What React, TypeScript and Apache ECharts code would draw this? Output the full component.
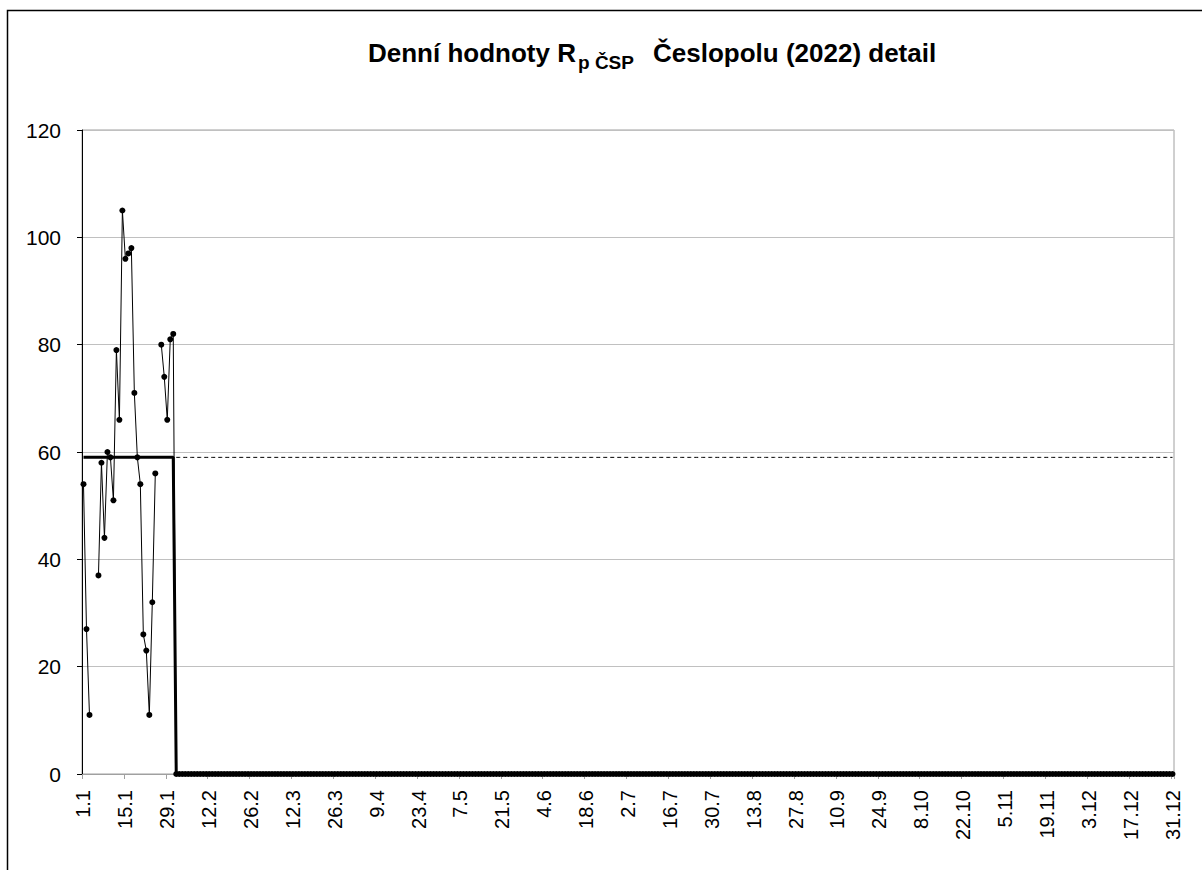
import React, { useEffect, useRef } from "react";
import * as echarts from "echarts";

// ---- data ----
const YEAR = 2022;
const DAYS_IN_YEAR = 365;
// daily values 1.1. – 31.1. (null = no value that day)
const januaryValues: (number | null)[] = [
  54, 27, 11, null, null, 37, 58, 44, 60, 59, 51, 79, 66, 105, 96, 97, 98, 71,
  59, 54, 26, 23, 11, 32, 56, null, 80, 74, 66, 81, 82,
];
// from 1.2. on, every daily value is 0
const restOfYearValue = 0;
// average of the January values (thick line) and its dashed continuation
const januaryAverage = 59;
const restOfYearAverage = 0;
const yTickValues = [0, 20, 40, 60, 80, 100, 120];

const titleMain = "Denní hodnoty R";
const titleSub = "p ČSP";
const titleRest = "Česlopolu (2022) detail";

function buildCategories(): string[] {
  const out: string[] = [];
  const start = Date.UTC(YEAR, 0, 1);
  for (let i = 0; i < DAYS_IN_YEAR; i++) {
    const d = new Date(start + i * 86400000);
    out.push(`${d.getUTCDate()}.${d.getUTCMonth() + 1}`);
  }
  return out;
}

export default function App() {
  const ref = useRef<HTMLDivElement>(null);

  useEffect(() => {
    if (!ref.current) return;
    const chart = echarts.init(ref.current, undefined, { renderer: "svg" });
    const categories = buildCategories();
    const nJan = januaryValues.length;

    const dailyData = categories.map((_, i) =>
      i < nJan ? januaryValues[i] : restOfYearValue
    );
    const averageData = categories.map((_, i) =>
      i < nJan ? januaryAverage : restOfYearAverage
    );
    const dashedData = categories.map((_, i) =>
      i < nJan ? null : januaryAverage
    );

    const font = "'Liberation Sans', Arial, sans-serif";

    chart.setOption({
      animation: false,
      backgroundColor: "#ffffff",
      grid: {
        left: 82,
        right: 28,
        top: 130,
        bottom: 96,
        show: true,
        borderColor: "#a0a0a0",
        borderWidth: 1,
        backgroundColor: "transparent",
      },
      xAxis: {
        type: "category",
        data: categories,
        boundaryGap: true,
        axisLine: { show: true, lineStyle: { color: "#a0a0a0", width: 1 } },
        axisTick: {
          show: true,
          interval: 13,
          length: 5,
          lineStyle: { color: "#a0a0a0" },
        },
        axisLabel: {
          interval: 13,
          rotate: 90,
          margin: 16,
          color: "#000",
          fontFamily: font,
          fontSize: 20,
        },
        splitLine: { show: false },
      },
      yAxis: {
        type: "value",
        min: yTickValues[0],
        max: yTickValues[yTickValues.length - 1],
        interval: yTickValues[1] - yTickValues[0],
        axisLine: { show: true, lineStyle: { color: "#000", width: 1 } },
        axisTick: { show: true, length: 5, lineStyle: { color: "#000" } },
        axisLabel: {
          margin: 21,
          color: "#000",
          fontFamily: font,
          fontSize: 21,
        },
        splitLine: { show: true, lineStyle: { color: "#c0c0c0", width: 1 } },
      },
      series: [
        {
          name: "průměr",
          type: "line",
          data: averageData,
          showSymbol: false,
          symbol: "none",
          lineStyle: { color: "#000", width: 3 },
          z: 2,
        },
        {
          name: "průměr (pokračování)",
          type: "line",
          data: dashedData,
          showSymbol: false,
          symbol: "none",
          lineStyle: { color: "#000", width: 1, type: [4, 3] },
          z: 2,
        },
        {
          name: "denní hodnoty",
          type: "line",
          data: dailyData,
          connectNulls: false,
          symbol: "circle",
          symbolSize: 6,
          showSymbol: true,
          showAllSymbol: true,
          itemStyle: { color: "#000" },
          lineStyle: { color: "#000", width: 1 },
          z: 3,
        },
      ],
      graphic: [
        {
          type: "rect",
          shape: { x: 7.5, y: 10.5, width: 1210, height: 880 },
          style: { fill: "none", stroke: "#000", lineWidth: 1.5 },
          silent: true,
        },
        {
          type: "text",
          x: 368,
          y: 53,
          style: {
            text: titleMain,
            font: `bold 26px ${font}`,
            fill: "#000",
            textAlign: "left",
            textVerticalAlign: "middle",
          },
        },
        {
          type: "text",
          x: 578,
          y: 62,
          style: {
            text: titleSub,
            font: `bold 19px ${font}`,
            fill: "#000",
            textAlign: "left",
            textVerticalAlign: "middle",
          },
        },
        {
          type: "text",
          x: 653,
          y: 53,
          style: {
            text: titleRest,
            font: `bold 26px ${font}`,
            fill: "#000",
            textAlign: "left",
            textVerticalAlign: "middle",
          },
        },
      ],
    });

    return () => chart.dispose();
  }, []);

  return (
    <div
      ref={ref}
      style={{ position: "absolute", left: 0, top: 0, width: 1202, height: 870 }}
    />
  );
}
